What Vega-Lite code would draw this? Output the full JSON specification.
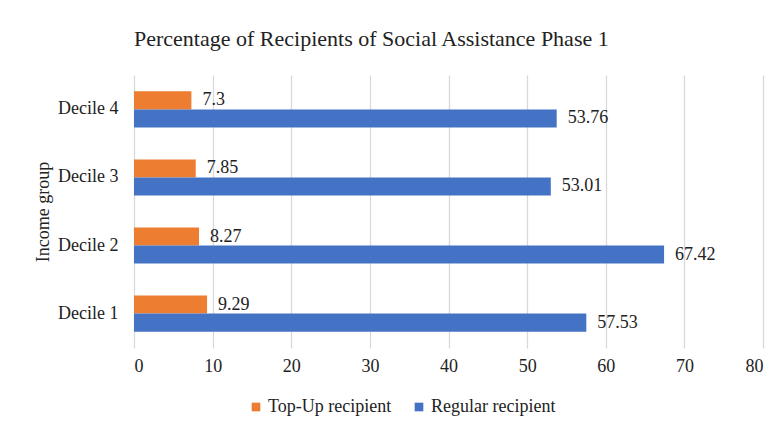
{
  "$schema": "https://vega.github.io/schema/vega-lite/v6.json",
  "autosize": "none",
  "width": 629,
  "height": 273,
  "padding": {"left": 134, "top": 75, "right": 14, "bottom": 77},
  "background": "white",
  "title": {
    "text": "Percentage of Recipients of Social Assistance Phase 1",
    "anchor": "start",
    "frame": "group",
    "font": "Liberation Serif",
    "fontSize": 22,
    "fontWeight": "normal",
    "color": "#222222",
    "offset": 24
  },
  "data": {
    "values": [
      {"group": "Decile 4", "series": "Top-Up recipient", "value": 7.3},
      {"group": "Decile 4", "series": "Regular recipient", "value": 53.76},
      {"group": "Decile 3", "series": "Top-Up recipient", "value": 7.85},
      {"group": "Decile 3", "series": "Regular recipient", "value": 53.01},
      {"group": "Decile 2", "series": "Top-Up recipient", "value": 8.27},
      {"group": "Decile 2", "series": "Regular recipient", "value": 67.42},
      {"group": "Decile 1", "series": "Top-Up recipient", "value": 9.29},
      {"group": "Decile 1", "series": "Regular recipient", "value": 57.53}
    ]
  },
  "encoding": {
    "y": {
      "field": "group",
      "type": "nominal",
      "scale": {"domain": ["Decile 4", "Decile 3", "Decile 2", "Decile 1"], "paddingInner": 0.47, "paddingOuter": 0.24},
      "axis": {
        "title": "Income group",
        "titleFont": "Liberation Serif",
        "titleFontSize": 18,
        "titleFontWeight": "normal",
        "titleColor": "#222222",
        "titlePadding": 5,
        "labelFont": "Liberation Serif",
        "labelFontSize": 18,
        "labelColor": "#222222",
        "labelPadding": 16,
        "ticks": false,
        "domain": false
      }
    },
    "yOffset": {
      "field": "series",
      "type": "nominal",
      "scale": {"domain": ["Top-Up recipient", "Regular recipient"]}
    },
    "x": {
      "field": "value",
      "type": "quantitative",
      "scale": {"domain": [0, 80], "nice": false},
      "axis": {
        "title": null,
        "values": [0, 10, 20, 30, 40, 50, 60, 70, 80],
        "labelFont": "Liberation Serif",
        "labelFontSize": 18,
        "labelColor": "#222222",
        "labelPadding": 9,
        "ticks": false,
        "domain": false,
        "grid": true,
        "gridColor": "#d9d9d9",
        "gridWidth": 1.3
      }
    }
  },
  "layer": [
    {
      "mark": {"type": "bar"},
      "encoding": {
        "color": {
          "field": "series",
          "type": "nominal",
          "scale": {"domain": ["Top-Up recipient", "Regular recipient"], "range": ["#ED7D31", "#4472C4"]},
          "legend": {
            "title": null,
            "orient": "none",
            "direction": "horizontal",
            "legendX": 113,
            "legendY": 323,
            "symbolType": "square",
            "symbolSize": 75,
            "symbolStrokeWidth": 0,
            "labelFont": "Liberation Serif",
            "labelFontSize": 18,
            "labelColor": "#222222",
            "labelOffset": 3,
            "columnPadding": 18
          }
        }
      }
    },
    {
      "mark": {"type": "text", "align": "left", "baseline": "middle", "dx": 11, "font": "Liberation Serif", "fontSize": 18, "color": "#222222"},
      "encoding": {
        "text": {"field": "value", "type": "quantitative"}
      }
    }
  ],
  "config": {
    "font": "Liberation Serif",
    "view": {"stroke": null},
    "axis": {"labelFont": "Liberation Serif", "titleFont": "Liberation Serif"},
    "legend": {"labelFont": "Liberation Serif"},
    "text": {"font": "Liberation Serif"}
  }
}
